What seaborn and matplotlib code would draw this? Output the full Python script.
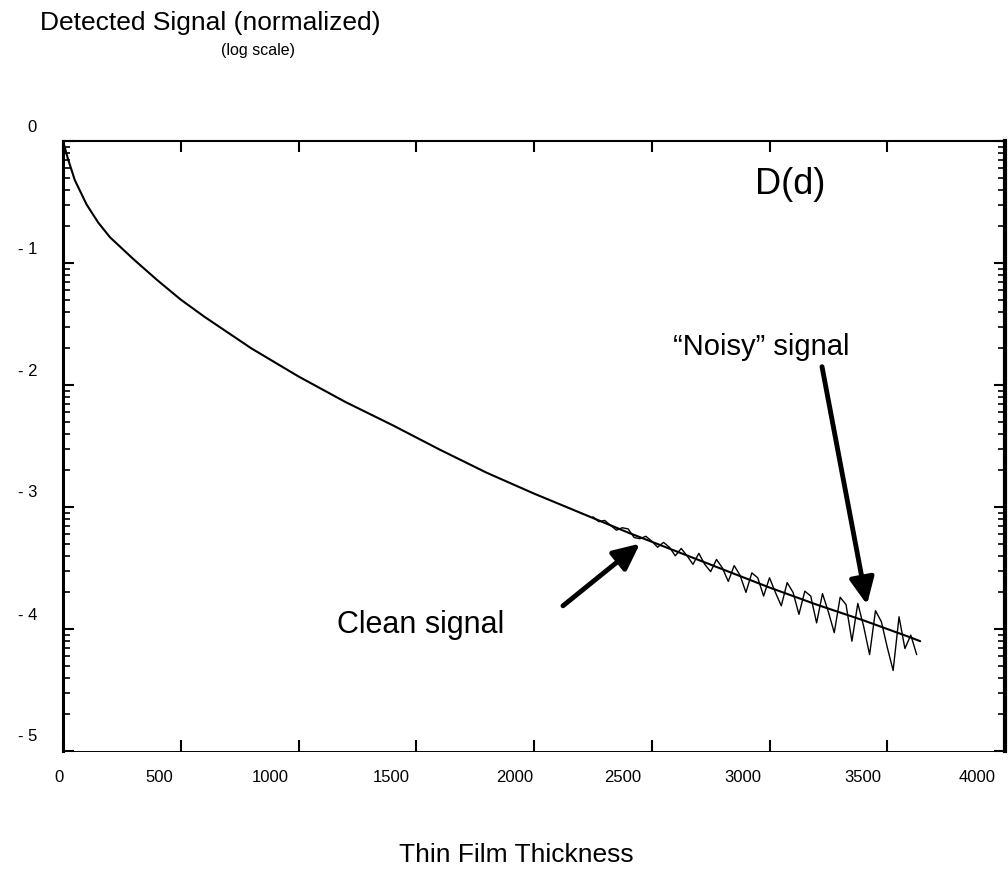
import numpy as np
import pandas as pd
import matplotlib
matplotlib.use("Agg")
import matplotlib.pyplot as plt
import seaborn as sns

# ---------------- data (log10 of normalized detected signal) ----------------
clean_x = [0, 20, 50, 100, 150, 200, 250, 300, 400, 500, 600, 800, 1000, 1200,
           1400, 1600, 1800, 2000, 2200, 2400, 2600, 2800, 3000, 3200, 3400,
           3600, 3640]
clean_y = [0.00, -0.14, -0.32, -0.52, -0.67, -0.79, -0.88, -0.97, -1.14, -1.30,
           -1.44, -1.70, -1.93, -2.14, -2.33, -2.53, -2.72, -2.89, -3.05, -3.21,
           -3.36, -3.51, -3.66, -3.80, -3.93, -4.07, -4.10]

noisy_x = [2250, 2275, 2300, 2325, 2350, 2375, 2400, 2425, 2450, 2475, 2500,
           2525, 2550, 2575, 2600, 2625, 2650, 2675, 2700, 2725, 2750, 2775,
           2800, 2825, 2850, 2875, 2900, 2925, 2950, 2975, 3000, 3025, 3050,
           3075, 3100, 3125, 3150, 3175, 3200, 3225, 3250, 3275, 3300, 3325,
           3350, 3375, 3400, 3425, 3450, 3475, 3500, 3525, 3550, 3575, 3600,
           3625]
noisy_y = [-3.08, -3.12, -3.11, -3.15, -3.19, -3.17, -3.18, -3.25, -3.26, -3.24,
           -3.28, -3.33, -3.29, -3.33, -3.40, -3.34, -3.40, -3.47, -3.38, -3.47,
           -3.53, -3.43, -3.50, -3.61, -3.48, -3.56, -3.70, -3.54, -3.58, -3.73,
           -3.58, -3.70, -3.81, -3.62, -3.70, -3.88, -3.69, -3.73, -3.95, -3.71,
           -3.86, -4.03, -3.74, -3.80, -4.10, -3.79, -3.98, -4.21, -3.85, -3.94,
           -4.15, -4.34, -3.90, -4.16, -4.05, -4.21]

xtick_values = [0, 500, 1000, 1500, 2000, 2500, 3000, 3500, 4000]
xtick_labels = ["0", "500", "1000", "1500", "2000", "2500", "3000", "3500", "4000"]
xlabel_pos = [-17, 408, 879, 1393, 1919, 2378, 2887, 3397, 3881]
ytick_values = [0, -1, -2, -3, -4, -5]
ytick_labels = ["0", "- 1", "- 2", "- 3", "- 4", "- 5"]

# ---------------- style ----------------
sns.set_style("white")
plt.rcParams["font.family"] = ["Liberation Sans", "DejaVu Sans"]
plt.rcParams["text.color"] = "black"

W, H, DPI = 1008, 878, 100
fig = plt.figure(figsize=(W / DPI, H / DPI), dpi=DPI)
ax = fig.add_axes([63 / W, 1 - 752 / H, (1005 - 63) / W, (752 - 142) / H])

df_clean = pd.DataFrame({"x": clean_x, "y": clean_y})
df_noisy = pd.DataFrame({"x": noisy_x, "y": noisy_y})
sns.lineplot(data=df_clean, x="x", y="y", ax=ax, color="black", lw=1.5,
             sort=False, estimator=None)
sns.lineplot(data=df_noisy, x="x", y="y", ax=ax, color="black", lw=1.0,
             sort=False, estimator=None)

ax.set_xlim(0, 4000)
ax.set_ylim(-5, 0)
ax.set_xlabel("")
ax.set_ylabel("")

# ticks
ax.set_xticks(xtick_values)
ax.set_yticks(ytick_values)
minor = [n + np.log10(k) for n in range(-5, 0) for k in range(2, 10)]
ax.set_yticks(minor, minor=True)
ax.tick_params(axis="both", which="both", direction="in", colors="black",
               labelbottom=False, labelleft=False, top=True, right=True,
               bottom=True, left=True)
ax.tick_params(axis="both", which="major", length=8, width=1.5)
ax.tick_params(axis="y", which="minor", length=5, width=1.2)

for s, lw in {"left": 2.2, "right": 3.0, "top": 1.5, "bottom": 0.7}.items():
    ax.spines[s].set_visible(True)
    ax.spines[s].set_linewidth(lw)
    ax.spines[s].set_color("black")

# tick labels as placed in the original
for pos, lbl in zip(xlabel_pos, xtick_labels):
    ax.annotate(lbl, xy=(pos, 0), xycoords=("data", "axes fraction"),
                xytext=(0, -26 * 0.72), textcoords="offset points",
                ha="center", va="center", fontsize=12, color="black")
for val, lbl in zip(ytick_values, ytick_labels):
    ax.annotate(lbl, xy=(0, val), xycoords=("axes fraction", "data"),
                xytext=(-26 * 0.72, 15 * 0.72), textcoords="offset points",
                ha="right", va="center", fontsize=12, color="black")

# titles
fig.text(40 / W, 1 - 23 / H, "Detected Signal (normalized)", fontsize=19,
         ha="left", va="center", color="black")
fig.text(258 / W, 1 - 50 / H, "(log scale)", fontsize=11.5, ha="center",
         va="center", color="black")
fig.text(516 / W, 1 - 855 / H, "Thin Film Thickness", fontsize=19,
         ha="center", va="center", color="black")

# annotations
ax.text(3087, -0.35, "D(d)", fontsize=26, ha="center", va="center",
        color="black")
ax.text(2964, -1.68, "\u201cNoisy\u201d signal", fontsize=21, ha="center",
        va="center", color="black")
ax.text(1520, -3.96, "Clean signal", fontsize=22, ha="center", va="center",
        color="black")

arrow_kw = dict(arrowstyle="-|>,head_length=1.6,head_width=0.75", lw=3.5,
                color="black", shrinkA=0, shrinkB=0)
ax.annotate("", xy=(3414, -3.80), xytext=(3223, -1.85), arrowprops=arrow_kw)
ax.annotate("", xy=(2450, -3.30), xytext=(2123, -3.81), arrowprops=arrow_kw)

fig.savefig("out.png", dpi=DPI)
